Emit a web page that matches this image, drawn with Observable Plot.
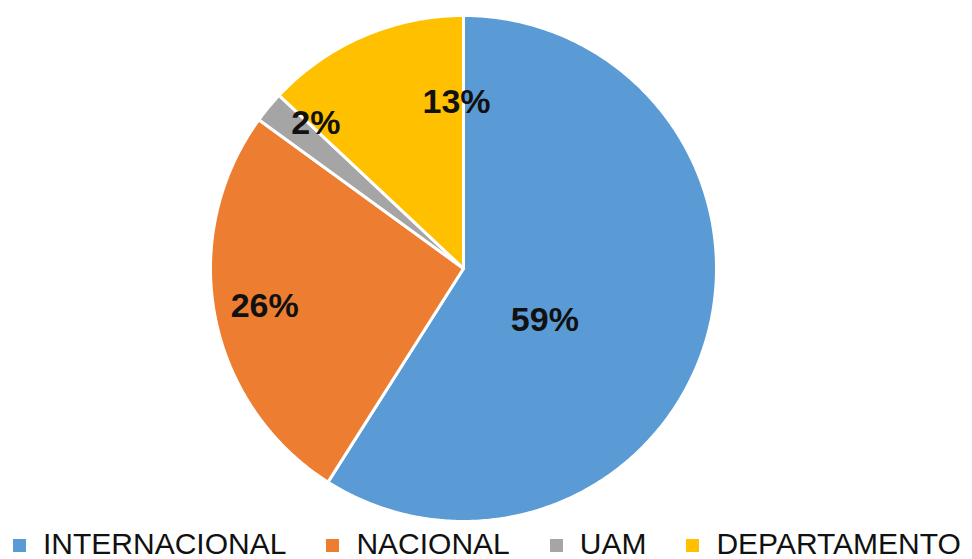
<!DOCTYPE html>
<html><head><meta charset="utf-8">
<script src="https://cdn.jsdelivr.net/npm/d3@7"></script>
<script src="https://cdn.jsdelivr.net/npm/@observablehq/plot@0.6"></script>
<style>
body{margin:0;background:#fff;overflow:hidden;}
#chart svg{display:block;}
#legend{display:flex;align-items:center;height:31px;line-height:31px;margin-left:13px;font-family:"Liberation Sans",sans-serif;font-size:30px;color:#111;white-space:nowrap;}
.item{display:flex;align-items:center;margin-right:40px;}
.sw{width:13px;height:13px;margin-right:17px;margin-top:3px;}
</style></head>
<body><div id="chart"></div><div id="legend"></div>
<script>
const categories = ["INTERNACIONAL", "NACIONAL", "UAM", "DEPARTAMENTO"];
const values = [59, 26, 2, 13];
const labels = ["59%", "26%", "2%", "13%"];
const colors = ["#5B9BD5", "#ED7D31", "#A5A5A5", "#FFC000"];
// label layout: [angle offset (deg), radius fraction]
const labelLayout = [[16, 0.38], [0, 0.80], [5, 0.82], [21, 0.66]];

const arcs = d3.pie().sort(null).value(d => d)(values);
const pts = [];
arcs.forEach((a, i) => {
  pts.push({cat: categories[i], x: 0, y: 0});
  const n = Math.max(2, Math.ceil((a.endAngle - a.startAngle) / 0.01));
  for (let k = 0; k <= n; k++) {
    const t = a.startAngle + (a.endAngle - a.startAngle) * k / n;
    pts.push({cat: categories[i], x: Math.sin(t), y: Math.cos(t)});
  }
});
const lab = arcs.map((a, i) => {
  const t = (a.startAngle + a.endAngle) / 2 + labelLayout[i][0] * Math.PI / 180;
  const r = labelLayout[i][1];
  return {text: labels[i], x: r * Math.sin(t), y: r * Math.cos(t)};
});

const chart = Plot.plot({
  width: 972, height: 528,
  marginLeft: 210, marginRight: 256, marginTop: 15, marginBottom: 7,
  x: {domain: [-1, 1], axis: null},
  y: {domain: [-1, 1], axis: null},
  color: {domain: categories, range: colors},
  marks: [
    Plot.line(pts, {x: "x", y: "y", z: "cat", fill: "cat", stroke: "white", strokeWidth: 3, curve: "linear-closed", strokeLinejoin: "round"}),
    Plot.text(lab, {x: "x", y: "y", text: "text", fontSize: 34, fontWeight: "bold", fontFamily: "Liberation Sans, sans-serif", fill: "#111"})
  ]
});
document.getElementById("chart").appendChild(chart);
const leg = document.getElementById("legend");
categories.forEach((c, i) => {
  const it = document.createElement("div"); it.className = "item";
  const sw = document.createElement("div"); sw.className = "sw"; sw.style.background = colors[i];
  const tx = document.createElement("span"); tx.textContent = c;
  it.appendChild(sw); it.appendChild(tx); leg.appendChild(it);
});
</script></body></html>
